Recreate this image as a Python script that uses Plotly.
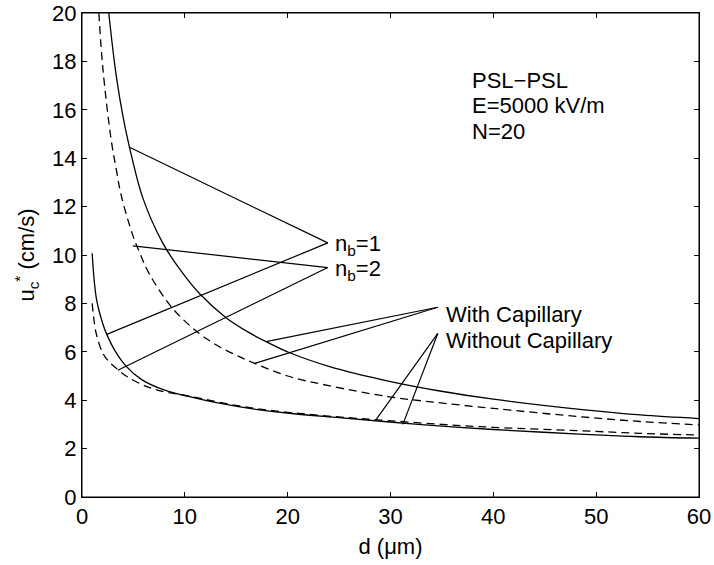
import plotly.graph_objects as go

# ---- data ----
# With capillary, n_b = 1 (solid, upper)
wc_nb1_x = [2.6, 3.33, 4.04, 4.62, 5.92, 7.87, 9.7, 11.44, 14.04, 16.3, 17.9, 20.2, 24.0, 29.9, 34.8, 40.0, 48.4, 54.3, 60.0]
wc_nb1_y = [20.0, 17.4, 15.6, 14.45, 12.35, 10.48, 9.3, 8.4, 7.4, 6.78, 6.42, 5.96, 5.4, 4.78, 4.38, 4.04, 3.62, 3.39, 3.24]
# With capillary, n_b = 2 (dashed, upper)
wc_nb2_x = [1.64, 2.03, 2.84, 3.33, 3.82, 4.95, 5.6, 6.57, 8.84, 11.4, 13.4, 15.3, 16.8, 20.0, 24.0, 29.9, 34.2, 40.0, 48.4, 54.3, 60.0]
wc_nb2_y = [20.0, 17.7, 14.75, 13.55, 12.45, 10.8, 10.1, 9.2, 7.78, 6.76, 6.2, 5.8, 5.52, 5.0, 4.6, 4.14, 3.92, 3.66, 3.32, 3.12, 2.98]
# Without capillary, n_b = 1 (solid, lower)
nc_nb1_x = [0.99, 1.4, 2.03, 2.41, 3.2, 4.3, 5.8, 7.5, 9.7, 15.2, 20.2, 25.0, 29.9, 35.0, 40.0, 48.4, 54.3, 60.0]
nc_nb1_y = [10.07, 8.2, 7.15, 6.72, 6.05, 5.4, 4.85, 4.5, 4.22, 3.73, 3.46, 3.28, 3.1, 2.93, 2.79, 2.6, 2.49, 2.43]
# Without capillary, n_b = 2 (dashed, lower)
nc_nb2_x = [0.99, 1.38, 2.03, 2.6, 3.33, 4.3, 5.92, 7.5, 10.5, 15.3, 20.0, 26.7, 29.0, 35.0, 40.0, 48.4, 54.3, 60.0]
nc_nb2_y = [8.0, 6.76, 5.94, 5.6, 5.32, 5.0, 4.63, 4.4, 4.16, 3.76, 3.5, 3.25, 3.18, 3.0, 2.88, 2.74, 2.63, 2.56]

# Pointer lines: label anchor -> curve point
ptr_nb1 = [(23.9, 10.5), (4.62, 14.45), (23.9, 10.5), (2.41, 6.72)]
ptr_nb2 = [(23.9, 9.48), (4.95, 10.38), (23.9, 9.48), (3.49, 5.24)]
ptr_wc = [(34.6, 7.84), (17.9, 6.42), (34.6, 7.84), (16.8, 5.52)]
ptr_nc = [(34.6, 6.76), (28.6, 3.2), (34.6, 6.76), (31.2, 3.0)]

x_ticks = [0, 10, 20, 30, 40, 50, 60]
y_ticks = [0, 2, 4, 6, 8, 10, 12, 14, 16, 18, 20]

FONT = "Liberation Sans, Arial, sans-serif"

fig = go.Figure()

def curve(x, y, dash):
    fig.add_trace(go.Scatter(x=x, y=y, mode="lines", line_shape="spline",
                             line=dict(color="black", width=1.3, dash=dash),
                             showlegend=False, hoverinfo="skip", cliponaxis=True))

curve(wc_nb1_x, wc_nb1_y, "solid")
curve(wc_nb2_x, wc_nb2_y, "8px,5px")
curve(nc_nb1_x, nc_nb1_y, "solid")
curve(nc_nb2_x, nc_nb2_y, "8px,5px")

for ptr in (ptr_nb1, ptr_nb2, ptr_wc, ptr_nc):
    xs, ys = [], []
    for i in range(0, len(ptr), 2):
        xs += [ptr[i][0], ptr[i + 1][0], None]
        ys += [ptr[i][1], ptr[i + 1][1], None]
    fig.add_trace(go.Scatter(x=xs, y=ys, mode="lines",
                             line=dict(color="black", width=1.2),
                             showlegend=False, hoverinfo="skip"))

def label(x, y, text, size=22):
    fig.add_annotation(x=x, y=y, xref="x", yref="y", text=text, showarrow=False,
                       xanchor="left", yanchor="middle",
                       font=dict(family=FONT, size=size, color="black"))

label(37.7, 17.23, "PSL\u2212PSL")
label(37.7, 16.16, "E=5000 kV/m")
label(37.7, 15.12, "N=20")
label(24.4, 10.4, "n<sub>b</sub>=1")
label(24.4, 9.4, "n<sub>b</sub>=2")
label(35.2, 7.56, "With Capillary")
label(35.2, 6.45, "Without Capillary")

axis_common = dict(showline=True, linecolor="black", linewidth=1, mirror="ticks",
                   ticks="inside", ticklen=5, tickcolor="black", tickwidth=1,
                   showgrid=False, zeroline=False, automargin=False,
                   ticklabeloverflow="allow",
                   tickfont=dict(family=FONT, size=22, color="black"))

fig.update_xaxes(range=[0, 60], tickvals=x_ticks, ticktext=[str(t) for t in x_ticks],
                 title=dict(text="d (\u03bcm)", font=dict(family=FONT, size=22, color="black"), standoff=10),
                 **axis_common)
fig.update_yaxes(range=[0, 20], tickvals=y_ticks, ticktext=[str(t) for t in y_ticks],
                 title=dict(text="u<sub>c</sub><sup>*</sup> (cm/s)", font=dict(family=FONT, size=22, color="black"), standoff=11),
                 **axis_common)

fig.add_shape(type="rect", xref="paper", yref="paper", x0=0, y0=0, x1=1, y1=1,
              line=dict(color="black", width=1), layer="above")

fig.update_layout(width=714, height=565, plot_bgcolor="white", paper_bgcolor="white",
                  margin=dict(l=82, r=15, t=13, b=68), showlegend=False)

# remove the default page margin so the figure fills the window exactly
fig.write_html("out.html", config={"displayModeBar": False},
               post_script="document.body.style.margin='0';document.documentElement.style.overflow='hidden';")
